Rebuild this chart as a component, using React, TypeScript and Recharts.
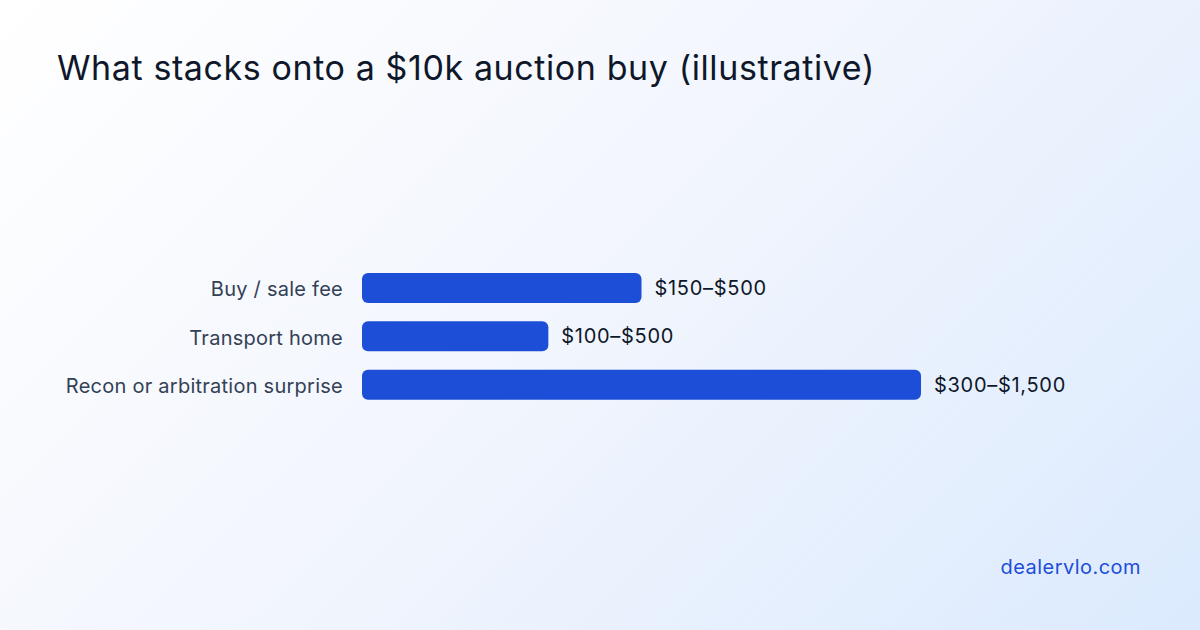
import React from 'react';
import { BarChart, Bar, XAxis, YAxis, LabelList } from 'recharts';

const categories = ['Buy / sale fee', 'Transport home', 'Recon or arbitration surprise'];
const barValues = [750, 500, 1500];
const rangeLabels = ['$150–$500', '$100–$500', '$300–$1,500'];

const data = categories.map((name, i) => ({
  name,
  value: barValues[i],
  label: rangeLabels[i]
}));

const FONT = 'Inter, "Noto Sans", sans-serif';

const App: React.FC = () => {
  return (
    <div
      style={{
        position: 'fixed',
        left: 0,
        top: 0,
        width: 1200,
        height: 630,
        background: 'linear-gradient(135deg, #ffffff 0%, #f1f5fd 50%, #dbeafe 100%)',
        fontFamily: FONT,
        overflow: 'hidden'
      }}
    >
      <div
        style={{
          position: 'absolute',
          left: 57,
          top: 47,
          fontSize: 34,
          color: '#0f172a',
          fontWeight: 400,
          letterSpacing: 0.6,
          whiteSpace: 'nowrap'
        }}
      >
        What stacks onto a $10k auction buy (illustrative)
      </div>

      <div style={{ position: 'absolute', left: 0, top: 0 }}>
        <BarChart
          width={1200}
          height={630}
          data={data}
          layout="vertical"
          margin={{ top: 264, right: 279, bottom: 221, left: 0 }}
        >
          <XAxis type="number" domain={[0, 1500]} hide />
          <YAxis
            type="category"
            dataKey="name"
            width={362}
            axisLine={false}
            tickLine={false}
            tickSize={0}
            tickMargin={19}
            tick={{ fill: '#334155', fontSize: 20, fontFamily: FONT, letterSpacing: 0.25, dy: 1 }}
          />
          <Bar dataKey="value" fill="#1d4ed8" barSize={30} radius={6} isAnimationActive={false}>
            <LabelList
              dataKey="label"
              position="right"
              offset={13}
              style={{ fill: '#0f172a', fontSize: 20, fontFamily: FONT, letterSpacing: 0.7 }}
            />
          </Bar>
        </BarChart>
      </div>

      <div
        style={{
          position: 'absolute',
          right: 59,
          top: 555,
          fontSize: 20,
          color: '#1d4ed8',
          letterSpacing: 0.45,
          whiteSpace: 'nowrap'
        }}
      >
        dealervlo.com
      </div>
    </div>
  );
};

export default App;
